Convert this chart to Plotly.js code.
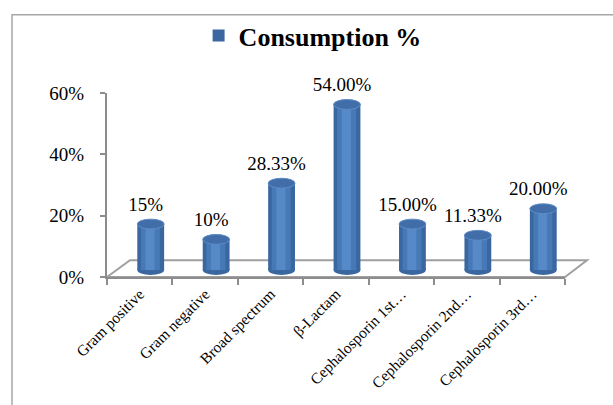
<!DOCTYPE html>
<html>
<head>
<meta charset="utf-8">
<script src="https://cdn.plot.ly/plotly-3.0.1.min.js"></script>
<style>html,body{margin:0;padding:0;background:#fff;}#chart{width:613px;height:405px;}</style>
</head>
<body>
<div id="chart"></div>
<script>
// ---- data ----
const categories = ["Gram positive", "Gram negative", "Broad spectrum", "\u03B2-Lactam",
  "Cephalosporin 1st\u2026", "Cephalosporin 2nd\u2026", "Cephalosporin 3rd\u2026"];
const consumption = [0.15, 0.10, 0.2833, 0.54, 0.15, 0.1133, 0.20];
const valueLabels = ["15%", "10%", "28.33%", "54.00%", "15.00%", "11.33%", "20.00%"];
const seriesName = "Consumption %";
const yTicks = [0, 0.2, 0.4, 0.6];
const yTickText = ["0%", "20%", "40%", "60%"];

// ---- geometry helpers (pixel-based depth offsets of the 3D look) ----
const plotW = 458, plotH = 186, yMax = 0.6;
const slotPx = plotW / categories.length;
const pxPerUnit = plotH / yMax;
const barDx = 11 / slotPx;      // depth shift of bars to the right
const barDy = 7 / pxPerUnit;    // depth shift of bars upward
const lblDx = 6 / slotPx;       // data labels shift
const barW = 0.41;
const ellH = 5 / pxPerUnit;

const serif = '"Liberation Serif", "Times New Roman", serif';
const gray = "#8c8c8c";

const traces = [
  { type: "bar", x: categories, y: consumption, xaxis: "x2", yaxis: "y2", width: barW,
    name: seriesName, showlegend: true,
    marker: { color: "#3A67A0", line: { width: 0 } } },
  { type: "bar", x: categories, y: consumption, xaxis: "x2", yaxis: "y2", width: 0.29, offset: -0.15,
    showlegend: false, marker: { color: "#4679B6", line: { width: 0 } } },
  { type: "bar", x: categories, y: consumption, xaxis: "x2", yaxis: "y2", width: 0.14, offset: -0.08,
    showlegend: false, marker: { color: "#5689C7", line: { width: 0 } } },
  { type: "scatter", mode: "markers+text", x: categories, y: consumption, xaxis: "x3", yaxis: "y2",
    text: valueLabels, textposition: "top center", showlegend: false, cliponaxis: false,
    marker: { size: 12, opacity: 0 },
    textfont: { family: serif, size: 19, color: "#000" } },
  // dummy trace on the primary axes so they render
  { type: "scatter", mode: "markers", x: categories, y: consumption.map(() => null),
    showlegend: false, hoverinfo: "skip" }
];

const shapes = [
  // chart border
  { type: "rect", xref: "paper", yref: "paper",
    x0: (12 - 107) / plotW, x1: (640 - 107) / plotW,
    y0: -(440 - 277) / plotH, y1: (277 - 12) / plotH,
    line: { color: "#a6a6a6", width: 1.5 }, fillcolor: "rgba(0,0,0,0)", layer: "below" },
  // floor
  { type: "path", xref: "paper", yref: "paper", layer: "below",
    path: "M 0 0 L " + (23 / plotW) + " " + (17 / plotH) + " L " + (480 / plotW) + " " + (17 / plotH) +
          " L 1 0 Z",
    line: { color: "#a0a0a0", width: 2 }, fillcolor: "#ffffff" }
];
// cylinder bottoms & tops, from the data
consumption.forEach((v, i) => {
  shapes.push({ type: "circle", xref: "x2", yref: "y2", layer: "below",
    x0: i - barW / 2, x1: i + barW / 2, y0: -ellH, y1: ellH,
    fillcolor: "#3A67A0", line: { width: 0 } });
  shapes.push({ type: "circle", xref: "x2", yref: "y2", layer: "above",
    x0: i - barW / 2, x1: i + barW / 2, y0: v - ellH, y1: v + ellH,
    fillcolor: "#416EA8", line: { color: "#5E8CC8", width: 1 } });
});

const layout = {
  width: 613, height: 405,
  margin: { l: 107, r: 613 - 107 - plotW, t: 91, b: 405 - 91 - plotH, pad: 0 },
  paper_bgcolor: "#ffffff", plot_bgcolor: "rgba(0,0,0,0)",
  font: { family: serif, color: "#000" },
  barmode: "overlay",
  showlegend: true,
  legend: { orientation: "h", x: 0.2, xanchor: "left", y: 1.44, yanchor: "top",
    font: { family: serif, size: 26, weight: "bold", color: "#000" },
    bgcolor: "rgba(0,0,0,0)" },
  xaxis: { type: "category", range: [-0.5, categories.length - 0.5], showgrid: false, zeroline: false,
    showline: true, linecolor: gray, linewidth: 2, ticks: "outside", ticklen: 6, tickcolor: gray, tickwidth: 2,
    tickson: "boundaries", tickangle: -45, tickfont: { family: serif, size: 15.5, color: "#000" },
    fixedrange: true },
  yaxis: { range: [0, yMax], tickvals: yTicks, ticktext: yTickText, showgrid: false, zeroline: false,
    showline: true, linecolor: gray, linewidth: 2, ticks: "outside", ticklen: 5, tickcolor: gray, tickwidth: 2,
    tickfont: { family: serif, size: 19, color: "#000" }, ticklabelstandoff: 12, fixedrange: true },
  xaxis2: { type: "category", overlaying: "x", visible: false,
    range: [-0.5 - barDx, categories.length - 0.5 - barDx], fixedrange: true },
  xaxis3: { type: "category", overlaying: "x", visible: false,
    range: [-0.5 - lblDx, categories.length - 0.5 - lblDx], fixedrange: true },
  yaxis2: { overlaying: "y", visible: false, range: [-barDy, yMax - barDy], fixedrange: true },
  shapes: shapes
};

Plotly.newPlot("chart", traces, layout, { staticPlot: true, displayModeBar: false });
</script>
</body>
</html>
